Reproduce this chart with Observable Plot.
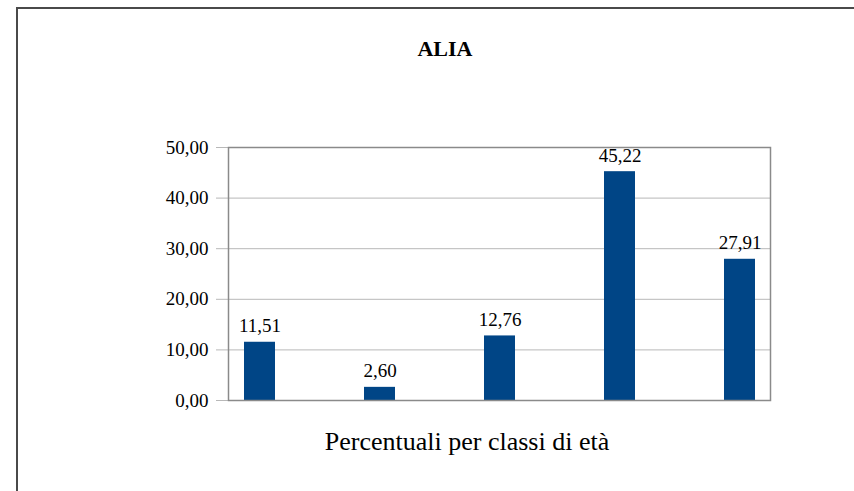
<!DOCTYPE html>
<html>
<head>
<meta charset="utf-8">
<script src="https://cdn.jsdelivr.net/npm/d3@7"></script>
<script src="https://cdn.jsdelivr.net/npm/@observablehq/plot@0.6"></script>
<style>
  html, body { margin: 0; padding: 0; background: #fff; overflow: hidden; }
  #wrap { position: relative; width: 854px; height: 491px; overflow: hidden; font-family: "Liberation Serif", "DejaVu Serif", serif; }
  #frame { position: absolute; left: 16px; top: 7px; width: 900px; height: 600px; border-left: 2px solid #4a4a4a; border-top: 2px solid #4a4a4a; box-sizing: border-box; }
  #title { position: absolute; left: 0; width: 890px; top: 36px; text-align: center; font-weight: bold; font-size: 22px; color: #000; }
  #caption { position: absolute; left: 0; width: 934px; top: 427px; text-align: center; font-size: 26px; color: #000; }
  #chart { position: absolute; left: 0; top: 0; }
</style>
</head>
<body>
<div id="wrap">
  <div id="frame"></div>
  <div id="title">ALIA</div>
  <div id="chart"></div>
  <div id="caption">Percentuali per classi di età</div>
</div>
<script>
const categories = ["classe 1", "classe 2", "classe 3", "classe 4", "classe 5"];
const values = [11.51, 2.60, 12.76, 45.22, 27.91];
const yTicks = [0, 10, 20, 30, 40, 50];

const data = categories.map((c, i) => ({cat: c, v: values[i]}));
const fmt = d => d.toFixed(2).replace(".", ",");

const chart = Plot.plot({
  width: 854,
  height: 491,
  marginLeft: 228,
  marginRight: 84,
  marginTop: 147,
  marginBottom: 91,
  style: {fontFamily: "'Liberation Serif', serif", fontSize: "19px", color: "#000", background: "transparent"},
  x: {domain: categories, paddingInner: 0.743, paddingOuter: 0.118, axis: null},
  y: {domain: [0, 50], ticks: yTicks, axis: null},
  marks: [
    Plot.gridY(yTicks, {stroke: "#b8b8b8", strokeOpacity: 1, strokeWidth: 1}),
    Plot.axisY({ticks: yTicks, tickSize: 12, tickFormat: fmt, stroke: "#b8b8b8", tickPadding: 8, fontSize: 19, fill: "#000", label: null}),
    Plot.barY(data, {x: "cat", y: "v", fill: "#004586"}),
    Plot.frame({stroke: "#8a8a8a", strokeWidth: 1.5}),
    Plot.text(data, {x: "cat", y: "v", text: d => fmt(d.v), lineAnchor: "bottom", dy: -10, fontSize: 19, fill: "#000"})
  ]
});
document.getElementById("chart").appendChild(chart);
</script>
</body>
</html>
